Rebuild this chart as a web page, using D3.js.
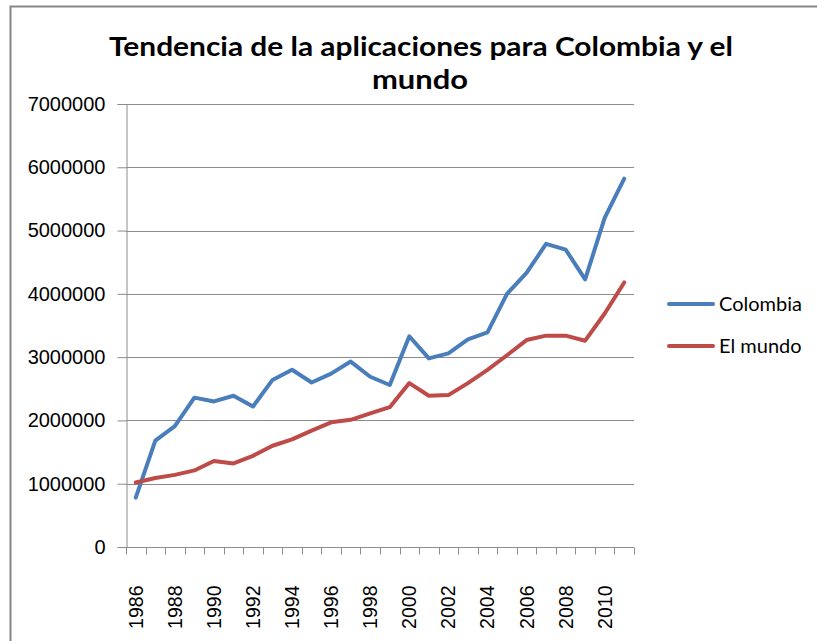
<!DOCTYPE html>
<html>
<head>
<meta charset="utf-8">
<script src="https://cdn.jsdelivr.net/npm/d3@7"></script>
<style>
  body { margin: 0; background: #fff; }
</style>
</head>
<body>
<div id="chart"></div>
<script>
// data
const years = ["1986","1987","1988","1989","1990","1991","1992","1993","1994","1995","1996","1997","1998",
  "1999","2000","2001","2002","2003","2004","2005","2006","2007","2008","2009","2010","2011"];
const colombia = [780000,1680000,1910000,2360000,2300000,2390000,2220000,2640000,2800000,2600000,2740000,2930000,2690000,
  2560000,3330000,2980000,3060000,3280000,3390000,4000000,4330000,4790000,4700000,4230000,5200000,5820000];
const mundo = [1020000,1090000,1140000,1210000,1360000,1320000,1440000,1600000,1700000,1840000,1970000,2010000,2110000,
  2210000,2590000,2390000,2400000,2590000,2800000,3030000,3270000,3340000,3340000,3260000,3690000,4180000];
const yTicks = [0,1000000,2000000,3000000,4000000,5000000,6000000,7000000];
const seriesNames = ["Colombia", "El mundo"];
const seriesColors = ["#4a7ebb", "#be4b48"];

const width = 817, height = 641;
const plot = { left: 126, right: 634, top: 104, bottom: 547 };

const svg = d3.select("#chart").append("svg")
  .attr("width", width)
  .attr("height", height);

// chart frame (only top and left edges show in the picture)
svg.append("path")
  .attr("d", `M10.5,${height} V6.5 H${width}`)
  .attr("fill", "none")
  .attr("stroke", "#868686")
  .attr("stroke-width", 2);

// title
const title = svg.append("text")
  .attr("text-anchor", "middle")
  .attr("font-family", "Lato, 'Open Sans', sans-serif")
  .attr("font-weight", 700)
  .attr("font-size", 26)
  .attr("fill", "#000");
title.append("tspan").attr("x", 421).attr("y", 56)
  .attr("textLength", 624).attr("lengthAdjust", "spacingAndGlyphs")
  .text("Tendencia de la aplicaciones para Colombia y el");
title.append("tspan").attr("x", 420).attr("y", 89)
  .attr("textLength", 96).attr("lengthAdjust", "spacingAndGlyphs")
  .text("mundo");

const x = d3.scaleBand().domain(years).range([plot.left, plot.right]);
const y = d3.scaleLinear().domain([0, 7000000]).range([plot.bottom, plot.top]);

// gridlines
svg.append("g")
  .selectAll("line")
  .data(yTicks.slice(1))
  .join("line")
  .attr("x1", plot.left).attr("x2", plot.right)
  .attr("y1", d => Math.round(y(d)) + 0.5).attr("y2", d => Math.round(y(d)) + 0.5)
  .attr("stroke", "#8c8c8c")
  .attr("stroke-width", 1);

// y axis
const yAxis = svg.append("g")
  .attr("transform", `translate(${plot.left + 0.5},0)`)
  .call(d3.axisLeft(y).tickValues(yTicks).tickFormat(d3.format("d")).tickSize(9).tickPadding(12));
yAxis.selectAll("path, line").attr("stroke", "#8c8c8c");
yAxis.selectAll("text")
  .attr("font-family", "'Liberation Sans', Arial, sans-serif")
  .attr("font-size", 20)
  .attr("fill", "#000");

// x axis: ticks between categories, labels every other year
const xAxis = svg.append("g")
  .attr("transform", `translate(0,${Math.round(plot.bottom) + 0.5})`);
xAxis.append("line")
  .attr("x1", plot.left).attr("x2", plot.right)
  .attr("stroke", "#8c8c8c");
xAxis.selectAll("line.tick")
  .data(years.concat(["end"]))
  .join("line")
  .attr("class", "tick")
  .attr("x1", d => Math.round(d === "end" ? plot.right : x(d)) + 0.5)
  .attr("x2", d => Math.round(d === "end" ? plot.right : x(d)) + 0.5)
  .attr("y1", 0).attr("y2", 7)
  .attr("stroke", "#8c8c8c");
xAxis.selectAll("text")
  .data(years.filter((d, i) => i % 2 === 0))
  .join("text")
  .attr("transform", d => `translate(${x(d) + x.bandwidth() / 2 + 7},38) rotate(-90)`)
  .attr("text-anchor", "end")
  .attr("font-family", "'Liberation Sans', Arial, sans-serif")
  .attr("font-size", 19.5)
  .attr("fill", "#000")
  .text(d => d);

// lines
const line = d3.line()
  .x((d, i) => x(years[i]) + x.bandwidth() / 2)
  .y(d => y(d));

[colombia, mundo].forEach((s, k) => {
  svg.append("path")
    .datum(s)
    .attr("d", line)
    .attr("fill", "none")
    .attr("stroke", seriesColors[k])
    .attr("stroke-width", 4)
    .attr("stroke-linejoin", "round")
    .attr("stroke-linecap", "round");
});

// legend
const legend = svg.append("g");
seriesNames.forEach((name, k) => {
  const ly = 304 + k * 42;
  legend.append("line")
    .attr("x1", 669).attr("x2", 713)
    .attr("y1", ly).attr("y2", ly)
    .attr("stroke", seriesColors[k])
    .attr("stroke-width", 4)
    .attr("stroke-linecap", "round");
  legend.append("text")
    .attr("x", 719).attr("y", ly + 7)
    .attr("font-family", "Lato, 'Open Sans', sans-serif")
    .attr("font-size", 20)
    .attr("fill", "#000")
    .text(name);
});
</script>
</body>
</html>
